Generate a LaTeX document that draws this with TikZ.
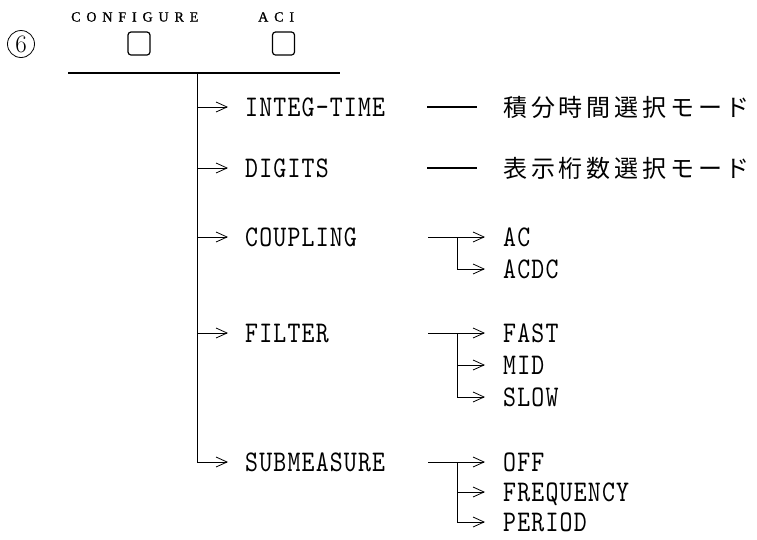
\documentclass[tikz,border=0pt]{standalone}
\usepackage{fontspec}
\usetikzlibrary{arrows.meta}
\newfontfamily\labfont[Extension=.otf,FakeStretch=0.82,LetterSpace=4]{lmmono10-regular}
\newfontfamily\jpfont[LetterSpace=16]{Noto Sans CJK JP}
\newfontfamily\topfont[LetterSpace=42,FakeBold=1]{Liberation Serif}
\begin{document}
\begin{tikzpicture}[x=1pt,y=-1pt,
  arr/.style={-{Straight Barb[length=11pt,width=10pt,line width=0.8pt]}, line width=0.8pt},
  lab/.style={anchor=west, inner sep=0pt, text height=18pt, text depth=0pt,
    font=\labfont\fontsize{30}{32}\selectfont},
  jp/.style={anchor=west, inner sep=0pt, text height=20pt, text depth=2pt,
    font=\jpfont\fontsize{24}{26}\selectfont},
  toplab/.style={anchor=west, inner sep=0pt, text height=9pt, text depth=0pt,
    font=\topfont\fontsize{14}{16}\selectfont},
  keybox/.style={draw, rounded corners=3pt, minimum width=22pt, minimum height=23pt,
    inner sep=0pt, line width=1.2pt},
  dashline/.style={line width=2pt}]
\useasboundingbox (0,0) rectangle (757,539);

% header
\node[circle, draw, line width=0.8pt, minimum size=27pt, inner sep=0pt,
  font=\fontsize{25}{25}\selectfont] (num) at (21,44) {6};
\node[toplab] (cfg) at (71,17) {CONFIGURE};
\node[toplab] (aci) at (258,17) {ACI};
\node[keybox] (b1) at (139,43.5) {};
\node[keybox] (b2) at (283.5,43.5) {};
\coordinate (hl) at (68,73);
\coordinate (hr) at (340,73);
\coordinate (trunk) at (197,73);
\draw[line width=1.4pt] (hl) -- (hr);

% main labels
\node[lab] (l1) at (245,107) {INTEG-TIME};
\node[lab] (l2) at (245,168) {DIGITS};
\node[lab] (l3) at (245,237) {COUPLING};
\node[lab] (l4) at (245,333) {FILTER};
\node[lab] (l5) at (245,462) {SUBMEASURE};

\draw[arr] (trunk |- l1.west) -- ([xshift=-17pt]l1.west);
\draw[arr] (trunk |- l2.west) -- ([xshift=-17pt]l2.west);
\draw[arr] (trunk |- l3.west) -- ([xshift=-17pt]l3.west);
\draw[arr] (trunk |- l4.west) -- ([xshift=-17pt]l4.west);
\draw[arr] (trunk) -- (trunk |- l5.west) -- ([xshift=-17pt]l5.west);

% descriptions
\node[jp] (j1) at (503,107) {積分時間選択モード};
\node[jp] (j2) at (503,168) {表示桁数選択モード};
\coordinate (d1a) at (427,107);
\coordinate (d2a) at (427,168);
\draw[dashline] (d1a) -- ([xshift=-26pt]j1.west);
\draw[dashline] (d2a) -- ([xshift=-26pt]j2.west);

% sub options
\node[lab] (ac) at (503,237) {AC};
\node[lab] (acdc) at (503,269) {ACDC};
\node[lab] (fast) at (503,333) {FAST};
\node[lab] (mid) at (503,365) {MID};
\node[lab] (slow) at (503,397) {SLOW};
\node[lab] (off) at (503,462) {OFF};
\node[lab] (freq) at (503,492) {FREQUENCY};
\node[lab] (per) at (503,522) {PERIOD};

\coordinate (s3) at (428,237);
\coordinate (s4) at (428,333);
\coordinate (s5) at (428,462);
\coordinate (v) at (457,0);

\draw[arr] (s3) -- ([xshift=-18pt]ac.west);
\draw[arr] (v |- s3) -- (v |- acdc.west) -- ([xshift=-18pt]acdc.west);

\draw[arr] (s4) -- ([xshift=-18pt]fast.west);
\draw[arr] (v |- mid.west) -- ([xshift=-18pt]mid.west);
\draw[arr] (v |- s4) -- (v |- slow.west) -- ([xshift=-18pt]slow.west);

\draw[arr] (s5) -- ([xshift=-18pt]off.west);
\draw[arr] (v |- freq.west) -- ([xshift=-18pt]freq.west);
\draw[arr] (v |- s5) -- (v |- per.west) -- ([xshift=-18pt]per.west);
\end{tikzpicture}
\end{document}
